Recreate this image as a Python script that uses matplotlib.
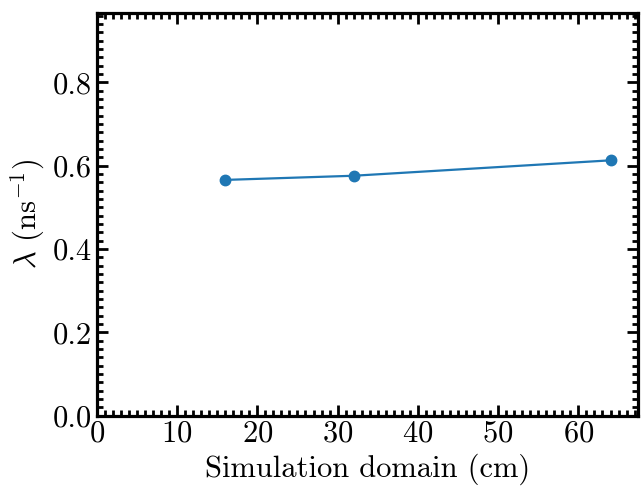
import matplotlib
matplotlib.use("Agg")
import matplotlib.pyplot as plt
from matplotlib.ticker import MultipleLocator

plt.rcParams['font.family'] = 'serif'
plt.rcParams['font.serif'] = ['cmr10']
plt.rcParams['mathtext.fontset'] = 'cm'
plt.rcParams['axes.formatter.use_mathtext'] = True
plt.rcParams['axes.unicode_minus'] = False

domain_cm = [16, 32, 64]
decay_rate = [0.566, 0.576, 0.613]

fig = plt.figure(figsize=(6.41, 4.96), dpi=100)
ax = fig.add_axes([0.151, 0.162, 0.844, 0.812])
ax.plot(domain_cm, decay_rate, '-o', color='#1f77b4', lw=1.6, ms=7.5)

ax.set_xlim(0, 67.4)
ax.set_ylim(0, 0.967)
ax.xaxis.set_major_locator(MultipleLocator(10))
ax.xaxis.set_minor_locator(MultipleLocator(1))
ax.yaxis.set_major_locator(MultipleLocator(0.2))
ax.yaxis.set_minor_locator(MultipleLocator(0.02))
ax.yaxis.set_major_formatter(matplotlib.ticker.FormatStrFormatter('%.1f'))

for s in ax.spines.values():
    s.set_linewidth(2.3)
ax.tick_params(which='both', direction='in', top=True, right=True, labelsize=22)
ax.tick_params(which='major', length=8, width=2)
ax.tick_params(which='minor', length=4.5, width=2)

ax.set_xlabel('Simulation domain (cm)', fontsize=22)
ax.set_ylabel(r'$\lambda$ (ns$^{-1}$)', fontsize=22)

fig.savefig('out.png', dpi=100)
